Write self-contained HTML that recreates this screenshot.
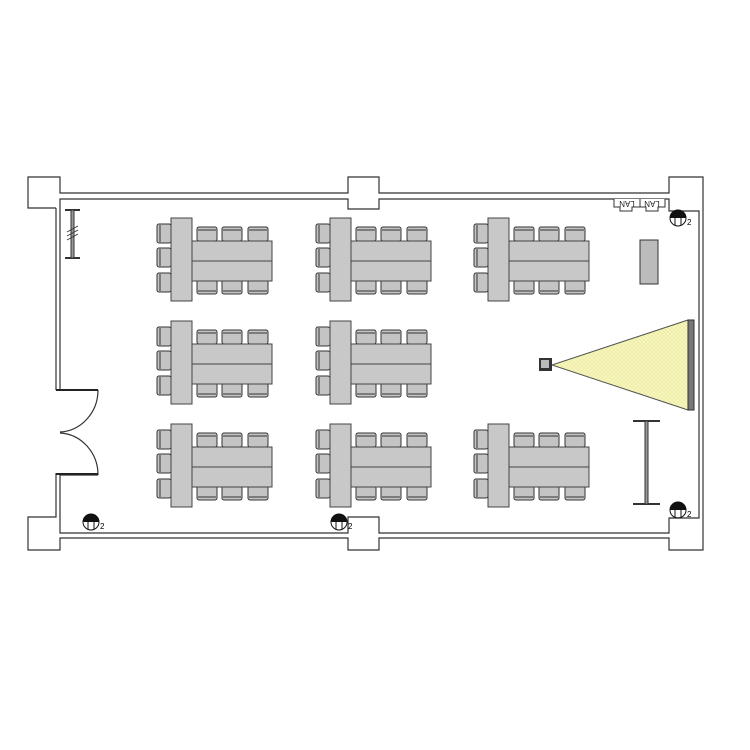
<!DOCTYPE html>
<html><head><style>body{margin:0;background:#fff}</style></head><body>
<svg width="750" height="750" viewBox="0 0 750 750" xmlns="http://www.w3.org/2000/svg" style="display:block">
<defs>
<pattern id="hp" width="4" height="4" patternUnits="userSpaceOnUse"><rect width="4" height="4" fill="#fafac0"/><path d="M0,0L4,4M4,0L0,4" stroke="#e8e6a0" stroke-width="0.6"/></pattern>
<g id="ch"><rect x="0" y="0" width="20" height="14" rx="2" fill="#c4c4c4" stroke="#333" stroke-width="1"/><line x1="1" y1="3" x2="19" y2="3" stroke="#333" stroke-width="1"/></g>
<g id="chb"><rect x="0" y="0" width="20" height="14" rx="2" fill="#c4c4c4" stroke="#333" stroke-width="1"/><line x1="1" y1="11" x2="19" y2="11" stroke="#333" stroke-width="1"/></g>
<g id="chl"><rect x="0" y="0" width="14" height="19" rx="2" fill="#c4c4c4" stroke="#333" stroke-width="1"/><line x1="3" y1="1" x2="3" y2="18" stroke="#333"/></g>
<g id="grp">
  <use href="#chl" x="-14" y="6"/><use href="#chl" x="-14" y="30"/><use href="#chl" x="-14" y="55"/>
  <use href="#ch" x="26" y="9"/><use href="#ch" x="51" y="9"/><use href="#ch" x="77" y="9"/>
  <use href="#chb" x="26" y="62"/><use href="#chb" x="51" y="62"/><use href="#chb" x="77" y="62"/>
  <rect x="21" y="23" width="80" height="40" fill="#c8c8c8" stroke="#444"/>
  <line x1="21" y1="43" x2="101" y2="43" stroke="#444"/>
  <rect x="0" y="0" width="21" height="83" fill="#c8c8c8" stroke="#444"/>
</g>
<g id="sock"><path d="M-8,0 A8,8 0 0 1 8,0 Z" fill="#111"/><circle r="8" fill="none" stroke="#111"/><line x1="-3" y1="-7" x2="-3" y2="7" stroke="#111"/><line x1="3" y1="-7" x2="3" y2="7" stroke="#111"/><text x="9" y="7" font-family="Liberation Sans, sans-serif" font-size="8">2</text></g>
</defs>
<g fill="none" stroke="#333" stroke-width="1.2">
<path d="M56,208 L28,208 L28,177 L60,177 L60,193 L348,193 L348,177 L379,177 L379,193 L669,193 L669,177 L703,177 L703,550 L669,550 L669,538 L379,538 L379,550 L348,550 L348,538 L60,538 L60,550 L28,550 L28,517 L56,517 L56,473"/>
<path d="M56,390 L56,208"/>
<path d="M98,390 L60,390 L60,199 L348,199 L348,209 L379,209 L379,199 L669,199 L669,211 L699,211 L699,518 L669,518 L669,533 L379,533 L379,517 L348,517 L348,533 L60,533 L60,475 L98,475"/>
<path d="M98,390 A40,42 0 0 1 60,432 M98,475 A40,42 0 0 0 60,433"/>
</g>
<line x1="56" y1="390" x2="98" y2="390" stroke="#222" stroke-width="2"/>
<line x1="56" y1="474" x2="98" y2="474" stroke="#222" stroke-width="2"/>
<g stroke="#333"><line x1="65" y1="210" x2="80" y2="210" stroke-width="2"/><line x1="65" y1="258" x2="80" y2="258" stroke-width="2"/><rect x="71" y="210" width="3" height="48" fill="#999"/><path d="M67,232 L78,226 M67,236 L78,230 M67,240 L78,234" stroke-width="0.8"/></g>
<use href="#grp" x="171" y="218"/><use href="#grp" x="330" y="218"/><use href="#grp" x="488" y="218"/>
<use href="#grp" x="171" y="321"/><use href="#grp" x="330" y="321"/>
<use href="#grp" x="171" y="424"/><use href="#grp" x="330" y="424"/><use href="#grp" x="488" y="424"/>
<rect x="640" y="240" width="18" height="44" fill="#bbb" stroke="#333"/>
<polygon points="552,365 688,320 688,410" fill="url(#hp)" stroke="#555"/>
<rect x="688" y="320" width="6" height="90" fill="#777" stroke="#333"/>
<rect x="539" y="358" width="13" height="13" fill="#333"/><rect x="541" y="360" width="8" height="8" fill="#bbb"/>
<g stroke="#333"><line x1="633" y1="421" x2="660" y2="421" stroke-width="2"/><line x1="633" y1="504" x2="660" y2="504" stroke-width="2"/><rect x="645" y="421" width="3" height="83" fill="#999"/></g>
<g font-family="Liberation Sans, sans-serif" font-size="8" fill="#222">
<path d="M614,199 L614,207 L620,207 L620,211 L632,211 L632,207 L640,207 L640,199" fill="#fff" stroke="#333"/>
<path d="M640,199 L640,207 L646,207 L646,211 L658,211 L658,207 L665,207 L665,199" fill="#fff" stroke="#333"/>
<text transform="translate(627,203) rotate(180)" text-anchor="middle" dominant-baseline="middle">LAN</text>
<text transform="translate(652,203) rotate(180)" text-anchor="middle" dominant-baseline="middle">LAN</text>
</g>
<use href="#sock" x="678" y="218"/><use href="#sock" x="678" y="510"/><use href="#sock" x="91" y="522"/><use href="#sock" x="339" y="522"/>
</svg>
</body></html>
